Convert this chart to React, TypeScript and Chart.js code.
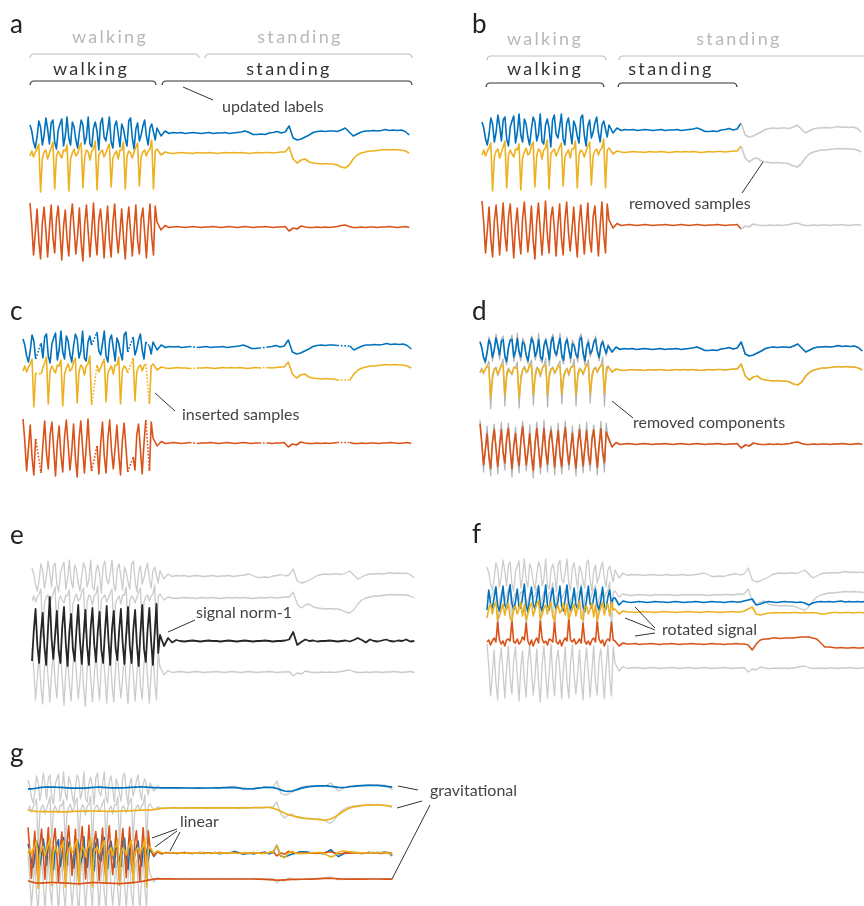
import React, { useEffect, useRef } from "react";
import { Chart, registerables } from "chart.js";
Chart.register(...registerables);

const W = 864;
const H = 906;

// ---- raw accelerometer channels (walking part: 9 gait cycles, standing part) ----
const X_WALK = [
  8, 2, -9, -15, -4, 12, 6, -12,
  -2, 15, 4, -11, 10, 13, -9, -16,
  3, 9, 14, -13, -3, 16, -5, -12,
  11, 6, -7, -15, 1, 13, 8, -11,
  -4, 16, -11, -14, 5, 11, 2, -17,
  10, 15, -4, -8, 3, 16, -9, -15,
  7, 12, -1, -14, 9, 4, -6, -13,
  12, 15, -5, -16, 4, 10, -8, -2,
  7, 13, -3, -12, 5, 9, 1, -7,
];
const Y_WALK = [
  -3, 2, -4, 1, 4, 9, -39, -5,
  1, 3, -6, 0, 5, 11, -36, -3,
  2, -2, -5, 3, 2, 8, -38, -6,
  0, 4, -3, -1, 6, 10, -35, -4,
  3, 1, -7, 2, 4, 12, -37, -2,
  1, 3, -4, 0, 5, 9, -34, -5,
  -1, 2, -6, 3, 3, 11, -36, -3,
  2, 0, -5, 1, 6, 10, -33, -4,
  1, 3, -3, 2, 4, 13, -36, 2,
];
const Z_WALK = [
  24, 2, -28, -6, 18, -14, -32, 4,
  20, -4, -30, -2, 22, -10, -26, 8,
  21, -6, -33, 0, 17, -12, -29, 6,
  23, -2, -27, -8, 19, -15, -34, 3,
  22, -5, -30, -4, 24, -9, -28, 7,
  18, -3, -31, -1, 21, -13, -30, 5,
  23, -7, -26, -5, 18, -11, -32, 2,
  20, -4, -29, -3, 22, -14, -27, 8,
  19, -6, -31, 0, 23, -10, -28, 21,
];
const X_STAND = [
  5, -3, 2, -0.5, 0.5, 0, 0.5, -0.5, 0, 0.5,
  0, -0.5, 0, 0.5, -0.5, 0, 0, 0.5, -0.5, 0,
  0.5, 1, 2, 0.5, -1.5, -1.5, -1, -1.5, 0, 0.5,
  1.5, 0, 1, 7, -5, -7, -6, -4, -2, 0.5,
  1.5, 2, 1.5, 2, 2, 1.5, 3, 5, 1, -3,
  -1, 1, 2, 2, 2.5, 2, 2.5, 3.5, 2.5, 3,
  2.5, 3, 1.5, -2,
];
const Y_STAND = [
  4, -2, 1, 0, -0.5, 0, 0.5, 0, 0, -0.5,
  0.5, 0, 0, 0.5, 0, -0.5, 0, 0.5, 0, 0.5,
  0, 0.5, 0, -0.5, 0, 0.5, 0, 0.5, 0.5, 0,
  0.5, 1, 1, 6, -6, -10, -7, -6, -9, -10,
  -10.5, -11, -10.5, -11, -11, -12, -14, -15, -12, -6,
  -2, 0, 1, 2, 2, 2.5, 3, 3.5, 3, 3.5,
  3, 3, 2, 0,
];
const Z_STAND = [
  5, -3, 1.5, -0.5, 0, 0.5, 0, -0.5, 0, 0.5,
  0, -0.5, 0, 0, 0.5, 0, -0.5, 0, 0.5, 0,
  -0.5, 0, 0.5, 0, -0.5, 0, 0, 0.5, 0, -0.5,
  0, 0, 0.5, -4, -1, -2, 1, 0, -0.5, -0.5,
  0, -0.5, 0, -0.5, 0, 0.5, 1.5, 2, 0.5, -0.5,
  -0.5, 0, -0.5, 0, 0, -0.5, 0, 0, 0.5, 0,
  -0.5, 0, 0.5, -0.5,
];

// ---- signal norm - 1 ----
const NORM_WALK = [
  -20, 10, 32, -4, -22, 8, 28, -6,
  -24, 12, 44, 2, -18, 6, 30, -10,
  -22, 14, 34, -2, -25, 9, 27, -8,
  -20, 11, 36, 0, -23, 5, 31, -6,
  -24, 13, 33, -3, -21, 10, 29, -9,
  -22, 8, 35, 1, -24, 12, 30, -7,
  -19, 10, 32, -2, -23, 7, 34, -5,
  -22, 12, 31, -4, -25, 9, 36, -8,
  -21, 11, 33, 0, -24, 8, 37, -12,
];
const NORM_STAND = [
  6, -5, 3, -1.5, 1, 0, -0.5, 0, 0.5, 0,
  -0.5, 0, 0.5, 0, 0, -0.5, 0, 0.5, 0, -0.5,
  0, 0.5, 0, -0.5, 0, 0, 0.5, 0, -0.5, 0,
  0, 0.5, 1.5, 9, -4, -1, 1.5, 0, 0.5, -0.5,
  0, 0, 0.5, 0, -0.5, 0, 0.5, -0.5, 1, 3,
  1, -1.5, 1.5, 0, -0.5, 0.5, 1.5, 0, -0.5, 0.5,
  0, 1.5, -0.5, 0,
];

// ---- rotated signal ----
const ROT_X_WALK = [
  -8, 12, -2, -6, 4, 15, -4, -9,
  2, 16, -3, -7, 6, 17, -1, -8,
  0, 13, -5, -6, 5, 18, -3, -10,
  3, 15, -2, -7, 4, 16, -4, -9,
  1, 17, -3, -8, 6, 14, -2, -7,
  2, 16, -5, -9, 3, 17, -1, -8,
  0, 14, -3, -7, 5, 15, -4, -10,
  2, 16, -2, -6, 4, 13, -3, -8,
  1, 15, -4, -7, 5, 12, -2, 4,
];
const ROT_Y_WALK = [
  -6, 4, 8, -2, 6, 10, -8, -4,
  2, 8, -3, 5, 9, -6, -9, 4,
  6, -2, 3, 10, -4, 7, -8, -2,
  5, 9, -4, 2, 8, 11, -7, -3,
  4, 7, -2, 6, 10, -5, -9, 3,
  7, -1, 2, 9, -3, 8, -7, -2,
  3, 8, -4, 4, 11, -6, -8, 5,
  6, -2, 3, 9, -5, 7, -9, -1,
  4, 10, -3, 6, 8, -4, 10, 2,
];
const ROT_Z_WALK = [
  2, 4, -1, 3, 6, 2, 22, 4,
  0, 3, -2, 4, 5, 3, 24, 2,
  1, 5, 0, 2, 7, 4, 21, 3,
  -1, 4, -2, 3, 6, 1, 23, 5,
  1, 3, -1, 5, 4, 2, 22, 2,
  0, 4, -2, 3, 6, 3, 25, 4,
  2, 5, 0, 2, 5, 1, 21, 3,
  0, 3, -1, 4, 6, 2, 23, 5,
  1, 4, -2, 3, 5, 3, 22, 4,
];
const ROT_X_STAND = [
  4, -3, 1, 0, -0.5, 0, 0.5, 0, -0.5, 0,
  0.5, 0, 0, -0.5, 0, 0.5, 0, -0.5, 0, 0,
  0.5, 0, -0.5, 0, 0.5, 0, 0, -0.5, 0, 0.5,
  0, 0, 1, 2, 3, -3, -2, -0.5, 0.5, 0,
  -0.5, 0, 0.5, 0, 0, -0.5, 0, -1, -3, -1,
  0, 0.5, 0, 0.5, 0, 0.5, 1, 0, 0.5, 0,
  0.5, 0, 0.5, 0,
];
const ROT_Y_STAND = [
  3, -2, 1, 0, 0, -0.5, 0, 0.5, 0, 0,
  -0.5, 0, 0.5, 0, 0, -0.5, 0, 0, 0.5, 0,
  0, -0.5, 0, 0.5, 0, 0, -0.5, 0, 0, 0.5,
  0, 0, 1, 3, 5, -2, -3, -2, -1, -1,
  -0.5, -1, -0.5, -1, -0.5, -0.5, -1, -0.5, -1, -0.5,
  -1, -2, -2, -1, -0.5, -0.5, -1, -0.5, -0.5, -1,
  -0.5, -0.5, -1, -0.5,
];
const ROT_Z_STAND = [
  3, -2, 1, 0, 0, 0.5, -0.5, 0, 0, 0.5,
  0, -0.5, 0, 0, 0.5, 0, -0.5, 0, 0, 0.5,
  0, 0, -0.5, 0, 0.5, 0, 0, -0.5, 0, 0,
  0.5, 0, 0, -1, -6, 0, 4, 5, 5, 6,
  6, 5.5, 6, 6, 6, 6.5, 7, 7, 7, 6,
  5, 1, -3, -3, -3.5, -4, -3.5, -4, -4, -3.5,
  -4, -4, -3.5, -4,
];

// sampling intervals (walking / standing), removed & inserted samples
const WALK_DT = 1;
const STAND_DT = 2.27;
const REMOVED_FROM = 146;
const INSERTED_IDX = [8, 9, 39, 40, 59, 60, 69, 82, 99, 118, 119];

// text
const PANEL_LETTERS = ["a", "b", "c", "d", "e", "f", "g"];
const ACTIVITY_LABELS = ["walking", "standing"];
const NOTES = [
  "updated labels",
  "removed samples",
  "inserted samples",
  "removed components",
  "signal norm-1",
  "rotated signal",
  "gravitational",
  "linear",
];

// ---- colours / layout ----
const BLUE = "#0072BD";
const YELLOW = "#EDB120";
const RED = "#D95319";
const GREY = "#cbcbcb";
const GREY_D = "#b2b2b2";
const BLACK = "#262626";

const PANEL_X: Record<string, { x0: number; k: number }> = {
  a: { x0: 30, k: 1.764 },
  b: { x0: 482, k: 1.764 },
  c: { x0: 23, k: 1.806 },
  d: { x0: 480, k: 1.778 },
  e: { x0: 32, k: 1.778 },
  f: { x0: 487, k: 1.778 },
  g: { x0: 28, k: 1.694 },
};

type Pt = { x: number; y: number };

function toSeries(walk: number[], stand: number[]): Pt[] {
  const out: Pt[] = [];
  walk.forEach((v, i) => out.push({ x: i * WALK_DT, y: v }));
  const t0 = walk.length * WALK_DT;
  stand.forEach((v, j) => out.push({ x: t0 + j * STAND_DT, y: v }));
  return out;
}
function smooth(s: Pt[], sigma: number): Pt[] {
  return s.map((p) => {
    let sw = 0,
      sv = 0;
    for (const q of s) {
      const d = (q.x - p.x) / sigma;
      if (Math.abs(d) > 4) continue;
      const w = Math.exp(-0.5 * d * d);
      sw += w;
      sv += w * q.y;
    }
    return { x: p.x, y: sv / sw };
  });
}
function minus(a: Pt[], b: Pt[]): Pt[] {
  return a.map((p, i) => ({ x: p.x, y: p.y - b[i].y }));
}
function withoutInserted(s: Pt[]): Pt[] {
  return s.filter((_, i) => !INSERTED_IDX.includes(i));
}

const WALK_END = X_WALK.length * WALK_DT;

const rawX = toSeries(X_WALK, X_STAND);
const rawY = toSeries(Y_WALK, Y_STAND);
const rawZ = toSeries(Z_WALK, Z_STAND);
const norm = toSeries(NORM_WALK, NORM_STAND);
const rotX = toSeries(ROT_X_WALK, ROT_X_STAND);
const rotY = toSeries(ROT_Y_WALK, ROT_Y_STAND);
const rotZ = toSeries(ROT_Z_WALK, ROT_Z_STAND);
const filtX = smooth(rawX, 0.55);
const filtY = smooth(rawY, 0.55);
const filtZ = smooth(rawZ, 0.55);
const gravX = smooth(rawX, 4.5);
const gravY = smooth(rawY, 4.5);
const gravZ = smooth(rawZ, 4.5);
const linX = minus(rawX, gravX);
const linY = minus(rawY, gravY);
const linZ = minus(rawZ, gravZ);

const removedSeg = {
  borderColor: (ctx: any) => (ctx.p0.parsed.x >= REMOVED_FROM ? GREY : undefined),
};
const insertedSeg = {
  borderDash: (ctx: any) => {
    const d = ctx.p1.parsed.x - ctx.p0.parsed.x;
    const step = ctx.p1.parsed.x > WALK_END ? STAND_DT : WALK_DT;
    return d > step * 1.5 ? [1.6, 1.8] : undefined;
  },
};

type Trace = { p: string; off: number; data: Pt[]; color: string; w: number; segment?: any };

// drawn bottom to top
const TRACES: Trace[] = [
  { p: "a", off: 133, data: rawX, color: BLUE, w: 1.6 },
  { p: "a", off: 153, data: rawY, color: YELLOW, w: 1.6 },
  { p: "a", off: 227, data: rawZ, color: RED, w: 1.6 },

  { p: "b", off: 130, data: rawX, color: BLUE, w: 1.6, segment: removedSeg },
  { p: "b", off: 152, data: rawY, color: YELLOW, w: 1.6, segment: removedSeg },
  { p: "b", off: 225, data: rawZ, color: RED, w: 1.6, segment: removedSeg },

  { p: "c", off: 347, data: withoutInserted(rawX), color: BLUE, w: 1.6, segment: insertedSeg },
  { p: "c", off: 368, data: withoutInserted(rawY), color: YELLOW, w: 1.6, segment: insertedSeg },
  { p: "c", off: 443, data: withoutInserted(rawZ), color: RED, w: 1.6, segment: insertedSeg },

  { p: "d", off: 349, data: rawX, color: GREY_D, w: 1.2 },
  { p: "d", off: 370, data: rawY, color: GREY_D, w: 1.2 },
  { p: "d", off: 444, data: rawZ, color: GREY_D, w: 1.2 },
  { p: "d", off: 349, data: filtX, color: BLUE, w: 1.6 },
  { p: "d", off: 370, data: filtY, color: YELLOW, w: 1.6 },
  { p: "d", off: 444, data: filtZ, color: RED, w: 1.6 },

  { p: "e", off: 576, data: rawX, color: GREY, w: 1.3 },
  { p: "e", off: 598, data: rawY, color: GREY, w: 1.3 },
  { p: "e", off: 672, data: rawZ, color: GREY, w: 1.3 },
  { p: "e", off: 641, data: norm, color: BLACK, w: 1.8 },

  { p: "f", off: 575, data: rawX, color: GREY, w: 1.3 },
  { p: "f", off: 595, data: rawY, color: GREY, w: 1.3 },
  { p: "f", off: 668, data: rawZ, color: GREY, w: 1.3 },
  { p: "f", off: 644, data: rotZ, color: RED, w: 1.6 },
  { p: "f", off: 602, data: rotX, color: BLUE, w: 1.6 },
  { p: "f", off: 612, data: rotY, color: YELLOW, w: 1.6 },

  { p: "g", off: 788, data: rawX, color: GREY, w: 1.3 },
  { p: "g", off: 808, data: rawY, color: GREY, w: 1.3 },
  { p: "g", off: 879, data: rawZ, color: GREY, w: 1.3 },
  { p: "g", off: 853, data: linX, color: BLUE, w: 1.6 },
  { p: "g", off: 853, data: linZ, color: RED, w: 1.6 },
  { p: "g", off: 853, data: linY, color: YELLOW, w: 1.6 },
  { p: "g", off: 788, data: gravX, color: BLUE, w: 1.7 },
  { p: "g", off: 808, data: gravY, color: YELLOW, w: 1.7 },
  { p: "g", off: 879, data: gravZ, color: RED, w: 1.7 },
];

// annotation layout
const LETTER_POS = [
  [10, 33], [472, 33], [10, 320], [472, 320], [10, 544], [472, 543], [10, 762],
];
const LABEL_POS = [
  { i: 0, x: 110, y: 43, c: "#b8b8b8" },
  { i: 1, x: 300, y: 43, c: "#b8b8b8" },
  { i: 0, x: 91, y: 75, c: "#333" },
  { i: 1, x: 289, y: 75, c: "#333" },
  { i: 0, x: 545, y: 45, c: "#b8b8b8" },
  { i: 1, x: 739, y: 45, c: "#b8b8b8" },
  { i: 0, x: 545, y: 75, c: "#333" },
  { i: 1, x: 671, y: 75, c: "#333" },
];
const BRACKETS: [number, number, number, string][] = [
  [30, 199, 54, "#bdbdbd"],
  [205, 412, 54, "#bdbdbd"],
  [30, 156, 81, "#333"],
  [162, 412, 81, "#333"],
  [487, 606, 56, "#bdbdbd"],
  [619, 890, 56, "#bdbdbd"],
  [486, 604, 83, "#333"],
  [618, 737, 83, "#333"],
];
const NOTE_POS = [
  [222, 112], [629, 209], [182, 420], [633, 428], [196, 618], [662, 635], [430, 796], [180, 827],
];
const POINTERS = [
  [183, 87, 213, 100],
  [742, 193, 763, 162],
  [155, 393, 175, 411],
  [612, 401, 633, 418],
  [168, 632, 195, 620],
  [635, 607, 655, 628],
  [625, 618, 655, 630],
  [635, 636, 655, 633],
  [398, 786, 418, 790],
  [397, 808, 422, 801],
  [430, 805, 392, 879],
  [177, 829, 152, 838],
  [177, 831, 155, 847],
  [180, 832, 170, 851],
];

const FONT = "Lato, 'Open Sans', sans-serif";

const annotations = {
  id: "annotations",
  afterDraw(chart: any) {
    const ctx: CanvasRenderingContext2D = chart.ctx;
    ctx.save();
    ctx.textBaseline = "alphabetic";
    ctx.font = `26px ${FONT}`;
    ctx.fillStyle = "#222";
    ctx.textAlign = "left";
    PANEL_LETTERS.forEach((t, i) => ctx.fillText(t, LETTER_POS[i][0], LETTER_POS[i][1]));
    ctx.font = `18px ${FONT}`;
    ctx.textAlign = "center";
    (ctx as any).letterSpacing = "2.3px";
    LABEL_POS.forEach((l) => {
      ctx.fillStyle = l.c;
      ctx.fillText(ACTIVITY_LABELS[l.i], l.x, l.y);
    });
    (ctx as any).letterSpacing = "0px";
    BRACKETS.forEach(([x1, x2, y, c]) => {
      ctx.beginPath();
      ctx.strokeStyle = c;
      ctx.lineWidth = 1.2;
      ctx.moveTo(x1, y + 4);
      ctx.quadraticCurveTo(x1 + 0.5, y, x1 + 4, y);
      ctx.lineTo(x2 - 4, y);
      ctx.quadraticCurveTo(x2 - 0.5, y, x2, y + 4);
      ctx.stroke();
    });
    ctx.strokeStyle = "#333";
    ctx.lineWidth = 1;
    POINTERS.forEach(([x1, y1, x2, y2]) => {
      ctx.beginPath();
      ctx.moveTo(x1, y1);
      ctx.lineTo(x2, y2);
      ctx.stroke();
    });
    ctx.font = `16px ${FONT}`;
    ctx.textAlign = "left";
    ctx.fillStyle = "#444";
    NOTES.forEach((t, i) => ctx.fillText(t, NOTE_POS[i][0], NOTE_POS[i][1]));
    ctx.restore();
  },
};

function buildConfig(): any {
  const scales: any = {
    x: { display: false },
    y: { display: false },
  };
  Object.keys(PANEL_X).forEach((p) => {
    const { x0, k } = PANEL_X[p];
    scales["x_" + p] = { type: "linear", axis: "x", display: false, min: -x0 / k, max: (W - x0) / k };
  });
  const n = TRACES.length;
  const datasets = TRACES.map((t, i) => {
    const yid = "y_" + i;
    scales[yid] = { type: "linear", axis: "y", display: false, min: -(H - t.off), max: t.off };
    const ds: any = {
      data: t.data,
      xAxisID: "x_" + t.p,
      yAxisID: yid,
      borderColor: t.color,
      borderWidth: t.w,
      pointRadius: 0,
      pointHoverRadius: 0,
      showLine: true,
      fill: false,
      tension: 0,
      borderJoinStyle: "round",
      order: n - i,
    };
    if (t.segment) ds.segment = t.segment;
    return ds;
  });
  return {
    type: "scatter",
    data: { datasets },
    options: {
      responsive: false,
      maintainAspectRatio: false,
      animation: false,
      devicePixelRatio: 1,
      events: [],
      layout: { padding: 0 },
      plugins: { legend: { display: false }, tooltip: { enabled: false } },
      scales,
    },
    plugins: [annotations],
  };
}

export default function App() {
  const ref = useRef<HTMLCanvasElement>(null);
  useEffect(() => {
    document.body.style.margin = "0";
    const chart = new Chart(ref.current as HTMLCanvasElement, buildConfig());
    let alive = true;
    if ((document as any).fonts) {
      (document as any).fonts.load(`16px Lato`).then(() => {
        if (alive) chart.draw();
      });
    }
    return () => {
      alive = false;
      chart.destroy();
    };
  }, []);
  return (
    <div style={{ position: "relative", width: W, height: H, background: "#fff" }}>
      <canvas ref={ref} width={W} height={H} style={{ display: "block", width: W, height: H }} />
    </div>
  );
}
